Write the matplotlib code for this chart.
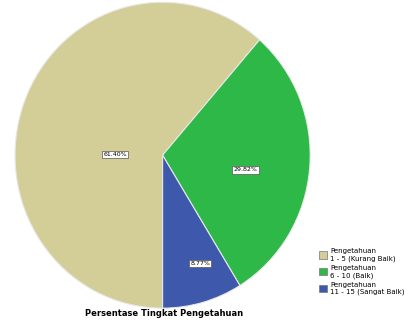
import numpy as np
import matplotlib.pyplot as plt
from matplotlib.patches import Patch

# data
kategori = ['Pengetahuan\n1 - 5 (Kurang Baik)', 'Pengetahuan\n6 - 10 (Baik)', 'Pengetahuan\n11 - 15 (Sangat Baik)']
jumlah = [35, 17, 5]
warna = ['#d3ce97', '#2eb848', '#3e58ac']
judul = 'Persentase Tingkat Pengetahuan'

fig = plt.figure(figsize=(4.06, 3.21), dpi=100)
ax = fig.add_axes([0.037, 0.04, 0.727, 0.953])

wedges, texts, autotexts = ax.pie(jumlah, colors=warna, startangle=-90, counterclock=False,
                                  autopct=lambda p: '%.2f%%' % p,
                                  wedgeprops=dict(edgecolor='#e8e8e8', linewidth=0.8),
                                  textprops=dict(fontsize=4.5))
ax.set_aspect('auto')
ax.set_xlim(-1, 1)
ax.set_ylim(-1, 1)

# geser label persen seperti spss
jarak = [0.32, 0.57, 0.75]
geser = [20, -5, 4]
for w, t, d, g in zip(wedges, autotexts, jarak, geser):
    th = np.deg2rad((w.theta1 + w.theta2) / 2 + g)
    t.set_position((d * np.cos(th), d * np.sin(th)))
    t.set_bbox(dict(facecolor='white', edgecolor='#555555', linewidth=0.5, pad=0.8))

handles = [Patch(facecolor=c, edgecolor='#777777', linewidth=0.5) for c in warna]
fig.legend(handles, kategori, loc='lower left', bbox_to_anchor=(0.77, 0.06),
           frameon=False, fontsize=5, handlelength=1.2, handleheight=1.2,
           labelspacing=0.5, handletextpad=0.4)

fig.text(0.405, 0.01, judul, ha='center', va='bottom', fontsize=6, fontweight='bold')

fig.savefig('out.png', dpi=100)
